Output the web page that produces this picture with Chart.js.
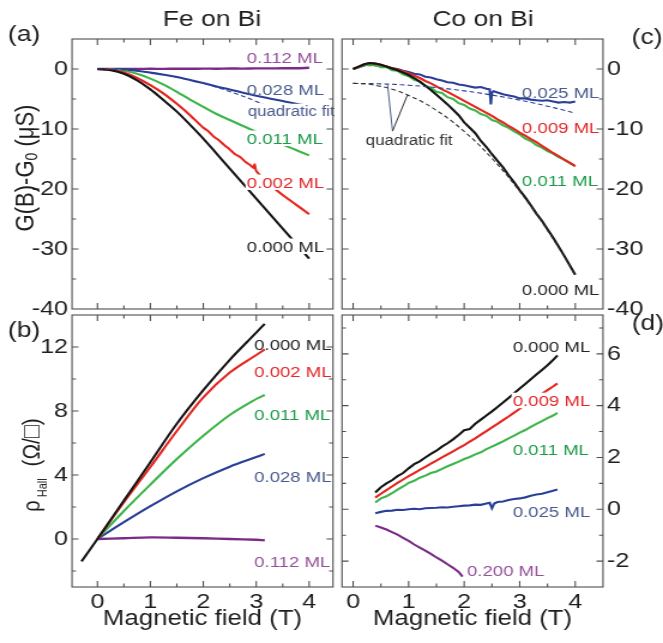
<!DOCTYPE html>
<html>
<head>
<meta charset="utf-8">
<script src="https://cdn.jsdelivr.net/npm/chart.js@4"></script>
<style>
  html, body { margin: 0; padding: 0; background: #fff; }
  #fig { position: relative; width: 663px; height: 643px; overflow: hidden; }
  #fig canvas { position: absolute; left: 0; top: 0; }
</style>
</head>
<body>
<div id="fig">
  <canvas id="pa" width="553" height="643" style="width:663px;height:643px"></canvas>
  <canvas id="pb" width="553" height="643" style="width:663px;height:643px"></canvas>
  <canvas id="pc" width="553" height="643" style="width:663px;height:643px"></canvas>
  <canvas id="pd" width="553" height="643" style="width:663px;height:643px"></canvas>
</div>
<script>
// ---------- (a) Fe on Bi : G(B)-G0 (uS) ----------
const feField = [0, 0.25, 0.5, 0.75, 1, 1.25, 1.5, 1.75, 2, 2.25, 2.5, 2.75, 3, 3.25, 3.5, 3.75, 4];
const feG_000 = [0, -0.2, -0.8, -1.9, -3.4, -5.2, -7.1, -9.3, -11.6, -14.1, -16.6, -19.1, -21.6, -24.1, -26.6, -29.1, -31.6];
const feG_011 = [0, -0.05, -0.3, -0.8, -1.6, -2.6, -3.8, -5.1, -6.3, -7.5, -8.5, -9.5, -10.5, -11.6, -12.6, -13.5, -14.4];
const feG_028 = [0, 0, -0.1, -0.3, -0.6, -0.95, -1.35, -1.85, -2.35, -2.9, -3.4, -3.95, -4.45, -4.9, -5.35, -5.8, -6.2];
const feG_112 = [0, 0, 0.02, 0, 0.03, 0.02, 0.05, 0.03, 0.06, 0.05, 0.08, 0.07, 0.1, 0.1, 0.12, 0.13, 0.2];
const feField_002 = [0, 0.25, 0.5, 0.75, 1, 1.25, 1.5, 1.75, 2, 2.1, 2.2, 2.3, 2.4, 2.5, 2.6, 2.7, 2.8, 2.9, 2.95, 2.97, 3, 3.25, 3.5, 3.75, 4];
const feG_002 = [0, -0.1, -0.6, -1.5, -2.7, -4.1, -5.8, -7.7, -9.8, -10.4, -11.3, -11.9, -12.7, -13.4, -14.2, -14.7, -15.5, -16.1, -16.5, -15.9, -17.0, -19.2, -21.0, -22.6, -24.2];
const feFitField = [0, 0.5, 1, 1.5, 2, 2.5, 3, 3.5];
const feFit_028 = [0, -0.15, -0.6, -1.35, -2.4, -3.75, -5.4, -7.35];

// ---------- (b) Fe on Bi : Hall resistance ----------
const hallField_000 = [-0.3, 0, 0.5, 1, 1.5, 2, 2.5, 3, 3.16];
const hall_000 = [-1.4, 0, 2.4, 4.8, 7.2, 9.3, 11.2, 12.9, 13.45];
const hallField = [0, 0.5, 1, 1.5, 2, 2.5, 3, 3.16];
const hall_002 = [0, 2.3, 4.5, 6.75, 8.85, 10.4, 11.5, 11.85];
const hall_011 = [0, 1.75, 3.4, 5.0, 6.45, 7.75, 8.75, 9.0];
const hall_028 = [0, 1.05, 2.05, 2.98, 3.8, 4.52, 5.12, 5.32];
const hall_112 = [0, 0.05, 0.1, 0.08, 0.05, 0.0, -0.05, -0.08];

// ---------- (c) Co on Bi : G(B)-G0 (uS) ----------
const coField = [0, 0.1, 0.2, 0.3, 0.4, 0.5, 0.6, 0.7, 0.8, 0.9, 1.0, 1.1, 1.2, 1.3, 1.4, 1.5, 1.6, 1.7, 1.8, 1.9,
  2.0, 2.1, 2.2, 2.3, 2.4, 2.5, 2.6, 2.7, 2.8, 2.9, 3.0, 3.1, 3.2, 3.3, 3.4, 3.5, 3.6, 3.7, 3.8, 3.9, 4.0];
const coG_000 = [0, 0.4, 0.8, 1.0, 0.9, 0.7, 0.4, 0.1, -0.2, -0.6, -1.0, -1.5, -2.1, -2.8, -3.5, -4.3, -5.1, -5.9, -6.8, -7.7,
  -8.9, -9.8, -10.7, -12.0, -13.0, -14.2, -15.3, -16.4, -17.7, -18.9, -20.2, -21.4, -22.7, -24.1, -25.3, -26.7, -28.1, -29.6, -31.1, -32.7, -34.3];
const coG_009 = [0, 0.4, 0.8, 1.0, 0.9, 0.7, 0.4, 0.15, -0.1, -0.4, -0.7, -1.1, -1.5, -2.0, -2.4, -2.9, -3.4, -3.8, -4.3, -4.8,
  -5.3, -5.8, -6.3, -6.8, -7.3, -7.8, -8.4, -8.9, -9.5, -10.0, -10.6, -11.1, -11.7, -12.2, -12.8, -13.4, -14.0, -14.5, -15.1, -15.6, -16.2];
const coG_011 = [0, 0.3, 0.7, 0.6, 0.7, 0.3, 0.3, -0.2, -0.3, -0.9, -1.2, -1.8, -2.1, -2.8, -3.1, -3.8, -4.0, -4.7, -5.0, -5.7,
  -6.0, -6.6, -6.9, -7.5, -7.8, -8.5, -8.8, -9.4, -9.8, -10.4, -10.9, -11.6, -12.0, -12.7, -13.1, -13.7, -14.1, -14.7, -15.1, -15.7, -16.2];
const coField_025 = [0, 0.1, 0.2, 0.3, 0.4, 0.5, 0.6, 0.7, 0.8, 0.9, 1.0, 1.1, 1.2, 1.3, 1.4, 1.5, 1.6, 1.7, 1.8, 1.9,
  2.0, 2.1, 2.2, 2.3, 2.4, 2.46, 2.48, 2.5, 2.53, 2.6, 2.7, 2.8, 2.9, 3.0, 3.1, 3.2, 3.3, 3.4, 3.5, 3.6, 3.7, 3.8, 3.9, 4.0];
const coG_025 = [0, 0.3, 0.6, 0.8, 0.6, 0.5, 0.4, 0.1, 0.0, -0.3, -0.5, -0.8, -0.9, -1.3, -1.4, -1.7, -1.9, -2.2, -2.3, -2.6,
  -2.7, -2.9, -3.1, -3.0, -3.3, -3.4, -5.9, -3.9, -3.7, -3.9, -4.2, -4.4, -4.6, -4.9, -4.9, -5.1, -5.2, -5.3, -5.2, -5.4, -5.6, -5.5, -5.6, -5.4];
const coFitField = [0, 0.25, 0.5, 0.75, 1, 1.25, 1.5, 1.75, 2, 2.25, 2.5, 2.75, 3, 3.25, 3.5, 3.75, 4];
const coFit_000 = [-2.4, -2.5, -2.9, -3.5, -4.4, -5.5, -6.9, -8.5, -10.4, -12.5, -14.9, -17.5, -20.4, -23.5, -26.9, -30.5, -34.4];
const coFit_025 = [-2.4, -2.42, -2.48, -2.57, -2.7, -2.88, -3.1, -3.35, -3.64, -3.97, -4.34, -4.74, -5.19, -5.67, -6.2, -6.76, -7.36];

// ---------- (d) Co on Bi : Hall resistance ----------
const dField = [0.4, 0.5, 0.6, 0.7, 0.8, 0.9, 1.0, 1.1, 1.2, 1.3, 1.4, 1.5, 1.6, 1.7, 1.8, 1.9, 2.0,
  2.1, 2.2, 2.3, 2.4, 2.5, 2.6, 2.7, 2.8, 2.9, 3.0, 3.1, 3.2, 3.3, 3.4, 3.5, 3.6, 3.68];
const dHall_000 = [0.65, 0.85, 1.0, 1.12, 1.28, 1.4, 1.58, 1.74, 1.85, 2.0, 2.14, 2.26, 2.42, 2.55, 2.7, 2.87, 3.05,
  3.1, 3.3, 3.46, 3.62, 3.78, 3.95, 4.12, 4.3, 4.48, 4.66, 4.84, 5.02, 5.2, 5.38, 5.56, 5.76, 5.94];
const dHall_009 = [0.45, 0.6, 0.74, 0.88, 1.02, 1.15, 1.28, 1.4, 1.52, 1.64, 1.76, 1.88, 2.0, 2.12, 2.24, 2.36, 2.48,
  2.61, 2.74, 2.88, 3.02, 3.16, 3.3, 3.44, 3.58, 3.73, 3.88, 4.03, 4.18, 4.32, 4.46, 4.6, 4.74, 4.86];
const dHall_011 = [0.26, 0.42, 0.5, 0.62, 0.76, 0.88, 1.02, 1.1, 1.22, 1.3, 1.4, 1.46, 1.56, 1.66, 1.75, 1.84, 1.94,
  2.02, 2.12, 2.2, 2.32, 2.42, 2.52, 2.62, 2.74, 2.84, 2.96, 3.06, 3.18, 3.3, 3.4, 3.52, 3.62, 3.72];
const dField_025 = [0.4, 0.5, 0.6, 0.7, 0.8, 0.9, 1.0, 1.1, 1.2, 1.3, 1.4, 1.5, 1.6, 1.7, 1.8, 1.9, 2.0,
  2.1, 2.2, 2.3, 2.4, 2.46, 2.5, 2.54, 2.6, 2.7, 2.8, 2.9, 3.0, 3.1, 3.2, 3.3, 3.4, 3.5, 3.6, 3.68];
const dHall_025 = [-0.15, -0.1, -0.06, -0.05, -0.02, -0.03, 0.0, 0.02, 0.0, 0.04, 0.05, 0.06, 0.08, 0.07, 0.1, 0.12, 0.14,
  0.15, 0.18, 0.17, 0.22, 0.25, 0.04, 0.22, 0.28, 0.3, 0.36, 0.4, 0.42, 0.46, 0.52, 0.57, 0.6, 0.66, 0.72, 0.76];
const dField_200 = [0.4, 0.5, 0.6, 0.7, 0.8, 0.9, 1.0, 1.1, 1.2, 1.3, 1.4, 1.5, 1.6, 1.7, 1.8, 1.9, 1.97];
const dHall_200 = [-0.63, -0.7, -0.78, -0.88, -0.98, -1.1, -1.22, -1.36, -1.48, -1.6, -1.72, -1.86, -1.98, -2.12, -2.26, -2.42, -2.6];

// ---------- drawing ----------
const SX = 663 / 553;           // canvases are stretched horizontally by CSS
const FONT = '"Liberation Sans", Arial, Helvetica, "DejaVu Sans", sans-serif';
Chart.defaults.font.family = FONT;
Chart.defaults.color = '#1e1e1e';

const LINE = { k: '#151515', r: '#e5261f', g: '#3db54a', b: '#2a3f97', p: '#7b2b86' };
const TXT = { k: '#262626', r: '#e2282a', g: '#1c9a48', b: '#4a5b8d', p: '#94519a' };

function pts(xs, ys) { return xs.map((x, i) => ({ x, y: ys[i] })); }
function series(xs, ys, color, extra) {
  return Object.assign({ data: pts(xs, ys), borderColor: color, borderWidth: 2.1, pointRadius: 0, fill: false, tension: 0 }, extra || {});
}
const dashed = { borderWidth: 1.1, borderDash: [4, 2.5], tension: 0.35 };

// tick marks: majors from the scale, minors halfway between
function marks(scale, step) {
  const out = [], seen = new Set();
  const add = (v, major) => {
    const k = Math.round(v * 1000);
    if (seen.has(k) || v <= scale.min + 1e-9 || v >= scale.max - 1e-9) return;
    seen.add(k); out.push([v, major]);
  };
  scale.ticks.forEach(t => add(t.value, true));
  scale.ticks.forEach(t => { add(t.value - step / 2, false); add(t.value + step / 2, false); });
  return out;
}

// vertical (rotated) axis title made of pieces of different sizes
function drawRich(ctx, parts, x, y) {
  ctx.save();
  ctx.textAlign = 'left';
  ctx.textBaseline = 'alphabetic';
  let total = 0;
  parts.forEach(p => { ctx.font = p.size + 'px ' + FONT; p.w = ctx.measureText(p.t).width; total += p.w; });
  let cx = -total / 2;
  ctx.translate(x, y);
  ctx.rotate(-Math.PI / 2);
  parts.forEach(p => { ctx.font = p.size + 'px ' + FONT; ctx.fillText(p.t, cx, p.dy || 0); cx += p.w; });
  ctx.restore();
}

function decoPlugin(o) {
  return {
    id: 'deco',
    afterDatasetsDraw(chart) {
      const ctx = chart.ctx, xs = chart.scales.x, ys = chart.scales.y, a = chart.chartArea;
      // curve labels, some on a white patch that hides the trace behind them
      o.labels.forEach(l => {
        const size = l.size || 15.5;
        ctx.save();
        ctx.font = size + 'px ' + FONT;
        ctx.textAlign = l.align || 'left';
        const w = ctx.measureText(l.text).width;
        const px = xs.getPixelForValue(l.at[0]), py = ys.getPixelForValue(l.at[1]);
        const left = l.align === 'center' ? px - w / 2 : px;
        if (l.mask) {
          const up = size * (l.asc || 0.74) + 2, down = size * (l.desc || 0) + 2;
          ctx.fillStyle = '#fff';
          ctx.fillRect(left - 1, py - up, w + 2, up + down);
        }
        ctx.fillStyle = l.color;
        ctx.fillText(l.text, px, py);
        ctx.restore();
      });
      // pointer lines
      (o.pointers || []).forEach(p => {
        ctx.save();
        ctx.strokeStyle = p.color; ctx.lineWidth = 1;
        ctx.beginPath();
        ctx.moveTo(xs.getPixelForValue(p.from[0]), ys.getPixelForValue(p.from[1]));
        ctx.lineTo(xs.getPixelForValue(p.to[0]), ys.getPixelForValue(p.to[1]));
        ctx.stroke();
        ctx.restore();
      });
      // frame with inward ticks on all four sides
      ctx.save();
      ctx.strokeStyle = '#4f4f4f';
      ctx.lineWidth = 1.1;
      ctx.strokeRect(a.left, a.top, a.right - a.left, a.bottom - a.top);
      ctx.beginPath();
      marks(xs, o.xStep).forEach(([v, major]) => {
        const p = xs.getPixelForValue(v), len = major ? 6 : 3.5;
        ctx.moveTo(p, a.bottom); ctx.lineTo(p, a.bottom - len);
        ctx.moveTo(p, a.top); ctx.lineTo(p, a.top + len);
      });
      marks(ys, o.yStep).forEach(([v, major]) => {
        const p = ys.getPixelForValue(v), len = (major ? 6.5 : 4) / SX;
        ctx.moveTo(a.left, p); ctx.lineTo(a.left + len, p);
        ctx.moveTo(a.right, p); ctx.lineTo(a.right - len, p);
      });
      ctx.stroke();
      ctx.restore();
    },
    afterDraw(chart) {
      const ctx = chart.ctx;
      ctx.save();
      ctx.fillStyle = '#1e1e1e';
      ctx.textAlign = 'center';
      ctx.textBaseline = 'middle';
      if (o.title) { ctx.font = '22px ' + FONT; ctx.fillText(o.title, o.titleAt[0] / SX, o.titleAt[1]); }
      ctx.font = '22px ' + FONT;
      ctx.fillText(o.letter, o.letterAt[0] / SX, o.letterAt[1]);
      if (o.yTitle) drawRich(ctx, o.yTitle, o.yTitleAt[0] / SX, o.yTitleAt[1]);
      ctx.restore();
    }
  };
}

function panel(id, o) {
  const L = o.area[0] / SX, T = o.area[1], R = o.area[2] / SX, B = o.area[3];
  const AX = 50, XH = o.xTitle ? 45 : 0;
  const left = o.yPos === 'left';
  const padding = {
    top: T,
    bottom: 643 - B - XH,
    left: left ? L - AX : L,
    right: left ? 553 - R : 553 - R - AX
  };
  const tickFont = { size: 21 };
  return new Chart(document.getElementById(id), {
    type: 'line',
    data: { datasets: o.datasets },
    options: {
      responsive: false,
      animation: false,
      events: [],
      layout: { padding },
      plugins: { legend: { display: false }, tooltip: { enabled: false } },
      scales: {
        x: {
          type: 'linear', min: o.x[0], max: o.x[1], display: !!o.xTitle,
          afterFit: s => { s.height = XH; },
          grid: { display: false, drawTicks: false }, border: { display: false },
          ticks: { stepSize: o.xStep, includeBounds: false, padding: 3, font: tickFont, maxRotation: 0, autoSkip: false },
          title: { display: !!o.xTitle, text: o.xTitle, font: { size: 21.5 }, padding: 0 }
        },
        y: {
          type: 'linear', position: o.yPos, min: o.y[0], max: o.y[1],
          afterFit: s => { s.width = AX; },
          grid: { display: false, drawTicks: false }, border: { display: false },
          ticks: { stepSize: o.yStep, includeBounds: false, padding: 3.3, font: tickFont, autoSkip: false }
        }
      }
    },
    plugins: [decoPlugin(o)]
  });
}

const gTitle = [
  { t: 'G(B)-G', size: 22 },
  { t: '0', size: 14, dy: 3 },
  { t: ' (\u03bcS)', size: 22 }
];
const rhoTitle = [
  { t: '\u03c1', size: 20 },
  { t: ' Hall', size: 11, dy: 6 },
  { t: '  (\u03a9/\u25a1)', size: 21 }
];

panel('pa', {
  area: [72, 39, 333, 309], x: [-0.48, 4.45], y: [-40, 5], xStep: 1, yStep: 10, yPos: 'left',
  title: 'Fe on Bi', titleAt: [212, 20], letter: '(a)', letterAt: [24, 35],
  yTitle: gTitle, yTitleAt: [33, 168],
  datasets: [
    series(feFitField, feFit_028, LINE.b, dashed),
    series(feField, feG_000, LINE.k, { tension: 0.35 }),
    series(feField_002, feG_002, LINE.r, { tension: 0.2 }),
    series(feField, feG_011, LINE.g, { tension: 0.35 }),
    series(feField, feG_028, LINE.b, { tension: 0.35 }),
    series(feField, feG_112, LINE.p, { tension: 0.35, borderWidth: 2.4 })
  ],
  labels: [
    { text: '0.112 ML', at: [2.82, 1.0], color: TXT.p },
    { text: '0.028 ML', at: [2.82, -4.33], color: TXT.b },
    { text: 'quadratic fit', at: [2.84, -7.9], color: TXT.b, size: 14, mask: true, asc: 0.76, desc: 0.2 },
    { text: '0.011 ML', at: [2.82, -12.5], color: TXT.g, mask: true },
    { text: '0.002 ML', at: [2.82, -19.83], color: TXT.r, mask: true },
    { text: '0.000 ML', at: [2.82, -30.5], color: TXT.k, mask: true }
  ]
});

panel('pb', {
  area: [72, 315, 333, 587], x: [-0.48, 4.45], y: [-3, 14], xStep: 1, yStep: 4, yPos: 'left',
  xTitle: 'Magnetic field (T)', letter: '(b)', letterAt: [24, 331],
  yTitle: rhoTitle, yTitleAt: [40, 465],
  datasets: [
    series(hallField_000, hall_000, LINE.k, { tension: 0.35 }),
    series(hallField, hall_002, LINE.r, { tension: 0.35 }),
    series(hallField, hall_011, LINE.g, { tension: 0.35 }),
    series(hallField, hall_028, LINE.b, { tension: 0.35 }),
    series(hallField, hall_112, LINE.p, { tension: 0.35, borderWidth: 2.4 })
  ],
  labels: [
    { text: '0.000 ML', at: [2.96, 11.83], color: TXT.k },
    { text: '0.002 ML', at: [2.96, 10.14], color: TXT.r },
    { text: '0.011 ML', at: [2.96, 7.46], color: TXT.g },
    { text: '0.028 ML', at: [2.96, 3.58], color: TXT.b },
    { text: '0.112 ML', at: [2.96, -1.73], color: TXT.p }
  ]
});

panel('pc', {
  area: [342, 39, 603, 309], x: [-0.2, 4.5], y: [-40, 5], xStep: 1, yStep: 10, yPos: 'right',
  title: 'Co on Bi', titleAt: [483, 20], letter: '(c)', letterAt: [647, 38],
  datasets: [
    series(coFitField, coFit_000, '#333333', dashed),
    series(coFitField, coFit_025, LINE.b, dashed),
    series(coField, coG_000, LINE.k),
    series(coField, coG_009, LINE.r),
    series(coField, coG_011, LINE.g),
    series(coField_025, coG_025, LINE.b)
  ],
  labels: [
    { text: '0.025 ML', at: [3.04, -4.82], color: TXT.b },
    { text: '0.009 ML', at: [3.04, -10.69], color: TXT.r },
    { text: '0.011 ML', at: [3.04, -19.58], color: TXT.g },
    { text: '0.000 ML', at: [3.04, -37.7], color: TXT.k },
    { text: 'quadratic fit', at: [1.01, -12.6], color: '#333333', size: 14, align: 'center' }
  ],
  pointers: [
    { from: [0.71, -10.35], to: [0.62, -2.6], color: TXT.b },
    { from: [0.71, -10.35], to: [0.98, -4.3], color: '#333333' }
  ]
});

panel('pd', {
  area: [342, 315, 603, 587], x: [-0.2, 4.5], y: [-3, 7.5], xStep: 1, yStep: 2, yPos: 'right',
  xTitle: 'Magnetic field (T)', letter: '(d)', letterAt: [648, 324],
  datasets: [
    series(dField, dHall_000, LINE.k),
    series(dField, dHall_009, LINE.r),
    series(dField, dHall_011, LINE.g),
    series(dField_025, dHall_025, LINE.b),
    series(dField_200, dHall_200, LINE.p)
  ],
  labels: [
    { text: '0.000 ML', at: [2.875, 6.08], color: TXT.k },
    { text: '0.009 ML', at: [2.875, 3.98], color: TXT.r, mask: true },
    { text: '0.011 ML', at: [2.875, 2.11], color: TXT.g },
    { text: '0.025 ML', at: [2.875, -0.30], color: TXT.b },
    { text: '0.200 ML', at: [2.05, -2.56], color: TXT.p }
  ]
});
</script>
</body>
</html>
